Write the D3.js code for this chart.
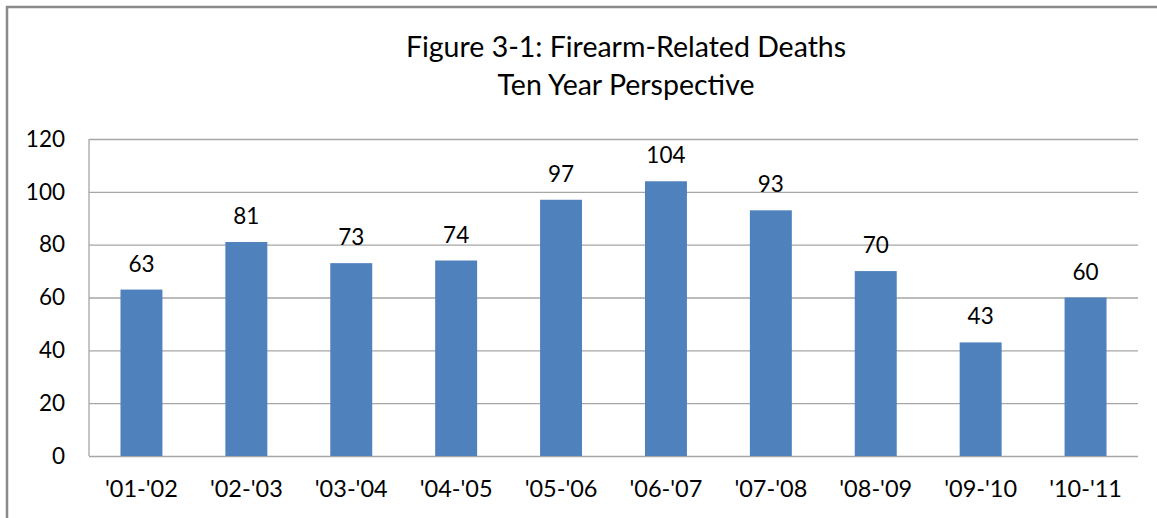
<!DOCTYPE html>
<html>
<head>
<meta charset="utf-8">
<script src="https://cdn.jsdelivr.net/npm/d3@7"></script>
<style>
  body { margin: 0; background: #fff; }
  text { font-family: Lato, "Open Sans", sans-serif; fill: #000; }
</style>
</head>
<body>
<svg id="chart" width="1157" height="518"></svg>
<script>
const seasons = ["'01-'02", "'02-'03", "'03-'04", "'04-'05", "'05-'06", "'06-'07", "'07-'08", "'08-'09", "'09-'10", "'10-'11"];
const deaths = [63, 81, 73, 74, 97, 104, 93, 70, 43, 60];
const yTicks = [0, 20, 40, 60, 80, 100, 120];
const titleLines = ["Figure 3-1: Firearm-Related Deaths", "Ten Year Perspective"];

const data = seasons.map((s, i) => ({season: s, value: deaths[i]}));

const svg = d3.select("#chart"),
      margin = {top: 139, right: 19, bottom: 62, left: 89},
      width = +svg.attr("width") - margin.left - margin.right,
      height = +svg.attr("height") - margin.top - margin.bottom;

// outer chart border (left and top visible)
svg.append("path")
  .attr("d", "M7,518 V7 H1157")
  .attr("fill", "none")
  .attr("stroke", "#8a8a8a")
  .attr("stroke-width", 2.5);

svg.selectAll("text.title")
  .data(titleLines)
  .enter().append("text")
  .attr("class", "title")
  .attr("x", 626)
  .attr("y", (d, i) => 57 + i * 38)
  .attr("text-anchor", "middle")
  .attr("font-size", 28.5)
  .text(d => d);

const g = svg.append("g").attr("transform", `translate(${margin.left},${margin.top})`);

const x = d3.scaleBand().domain(seasons).range([0, width]).paddingInner(0.6).paddingOuter(0.3);
const y = d3.scaleLinear().domain([0, 120]).range([height, 0]);

// gridlines
g.append("g")
  .call(d3.axisLeft(y).tickValues(yTicks).tickSize(-width).tickFormat(""))
  .call(a => a.select(".domain").remove())
  .call(a => a.selectAll("line").attr("stroke", "#a6a6a6").attr("stroke-width", 1.3));

// y axis labels
g.append("g")
  .call(d3.axisLeft(y).tickValues(yTicks).tickSize(0).tickPadding(24))
  .call(a => a.select(".domain").remove())
  .call(a => a.selectAll("text").attr("font-size", 22.5).attr("font-family", "Lato, sans-serif").attr("fill", "#000"));

// left axis line
g.append("line")
  .attr("x1", 0).attr("x2", 0).attr("y1", 0).attr("y2", height)
  .attr("stroke", "#a6a6a6").attr("stroke-width", 1.3);

// x axis labels
g.append("g")
  .attr("transform", `translate(0,${height})`)
  .call(d3.axisBottom(x).tickSize(0).tickPadding(24))
  .call(a => a.select(".domain").remove())
  .call(a => a.selectAll("text").attr("font-size", 23.5).attr("font-family", "Lato, sans-serif").attr("fill", "#000"));

g.selectAll("rect.bar")
  .data(data)
  .enter().append("rect")
  .attr("class", "bar")
  .attr("x", d => x(d.season))
  .attr("y", d => y(d.value))
  .attr("width", x.bandwidth())
  .attr("height", d => height - y(d.value))
  .attr("fill", "#4f81bd");

g.selectAll("text.val")
  .data(data)
  .enter().append("text")
  .attr("class", "val")
  .attr("x", d => x(d.season) + x.bandwidth() / 2)
  .attr("y", d => y(d.value) - 18)
  .attr("text-anchor", "middle")
  .attr("font-size", 22.5)
  .text(d => d.value);
</script>
</body>
</html>
